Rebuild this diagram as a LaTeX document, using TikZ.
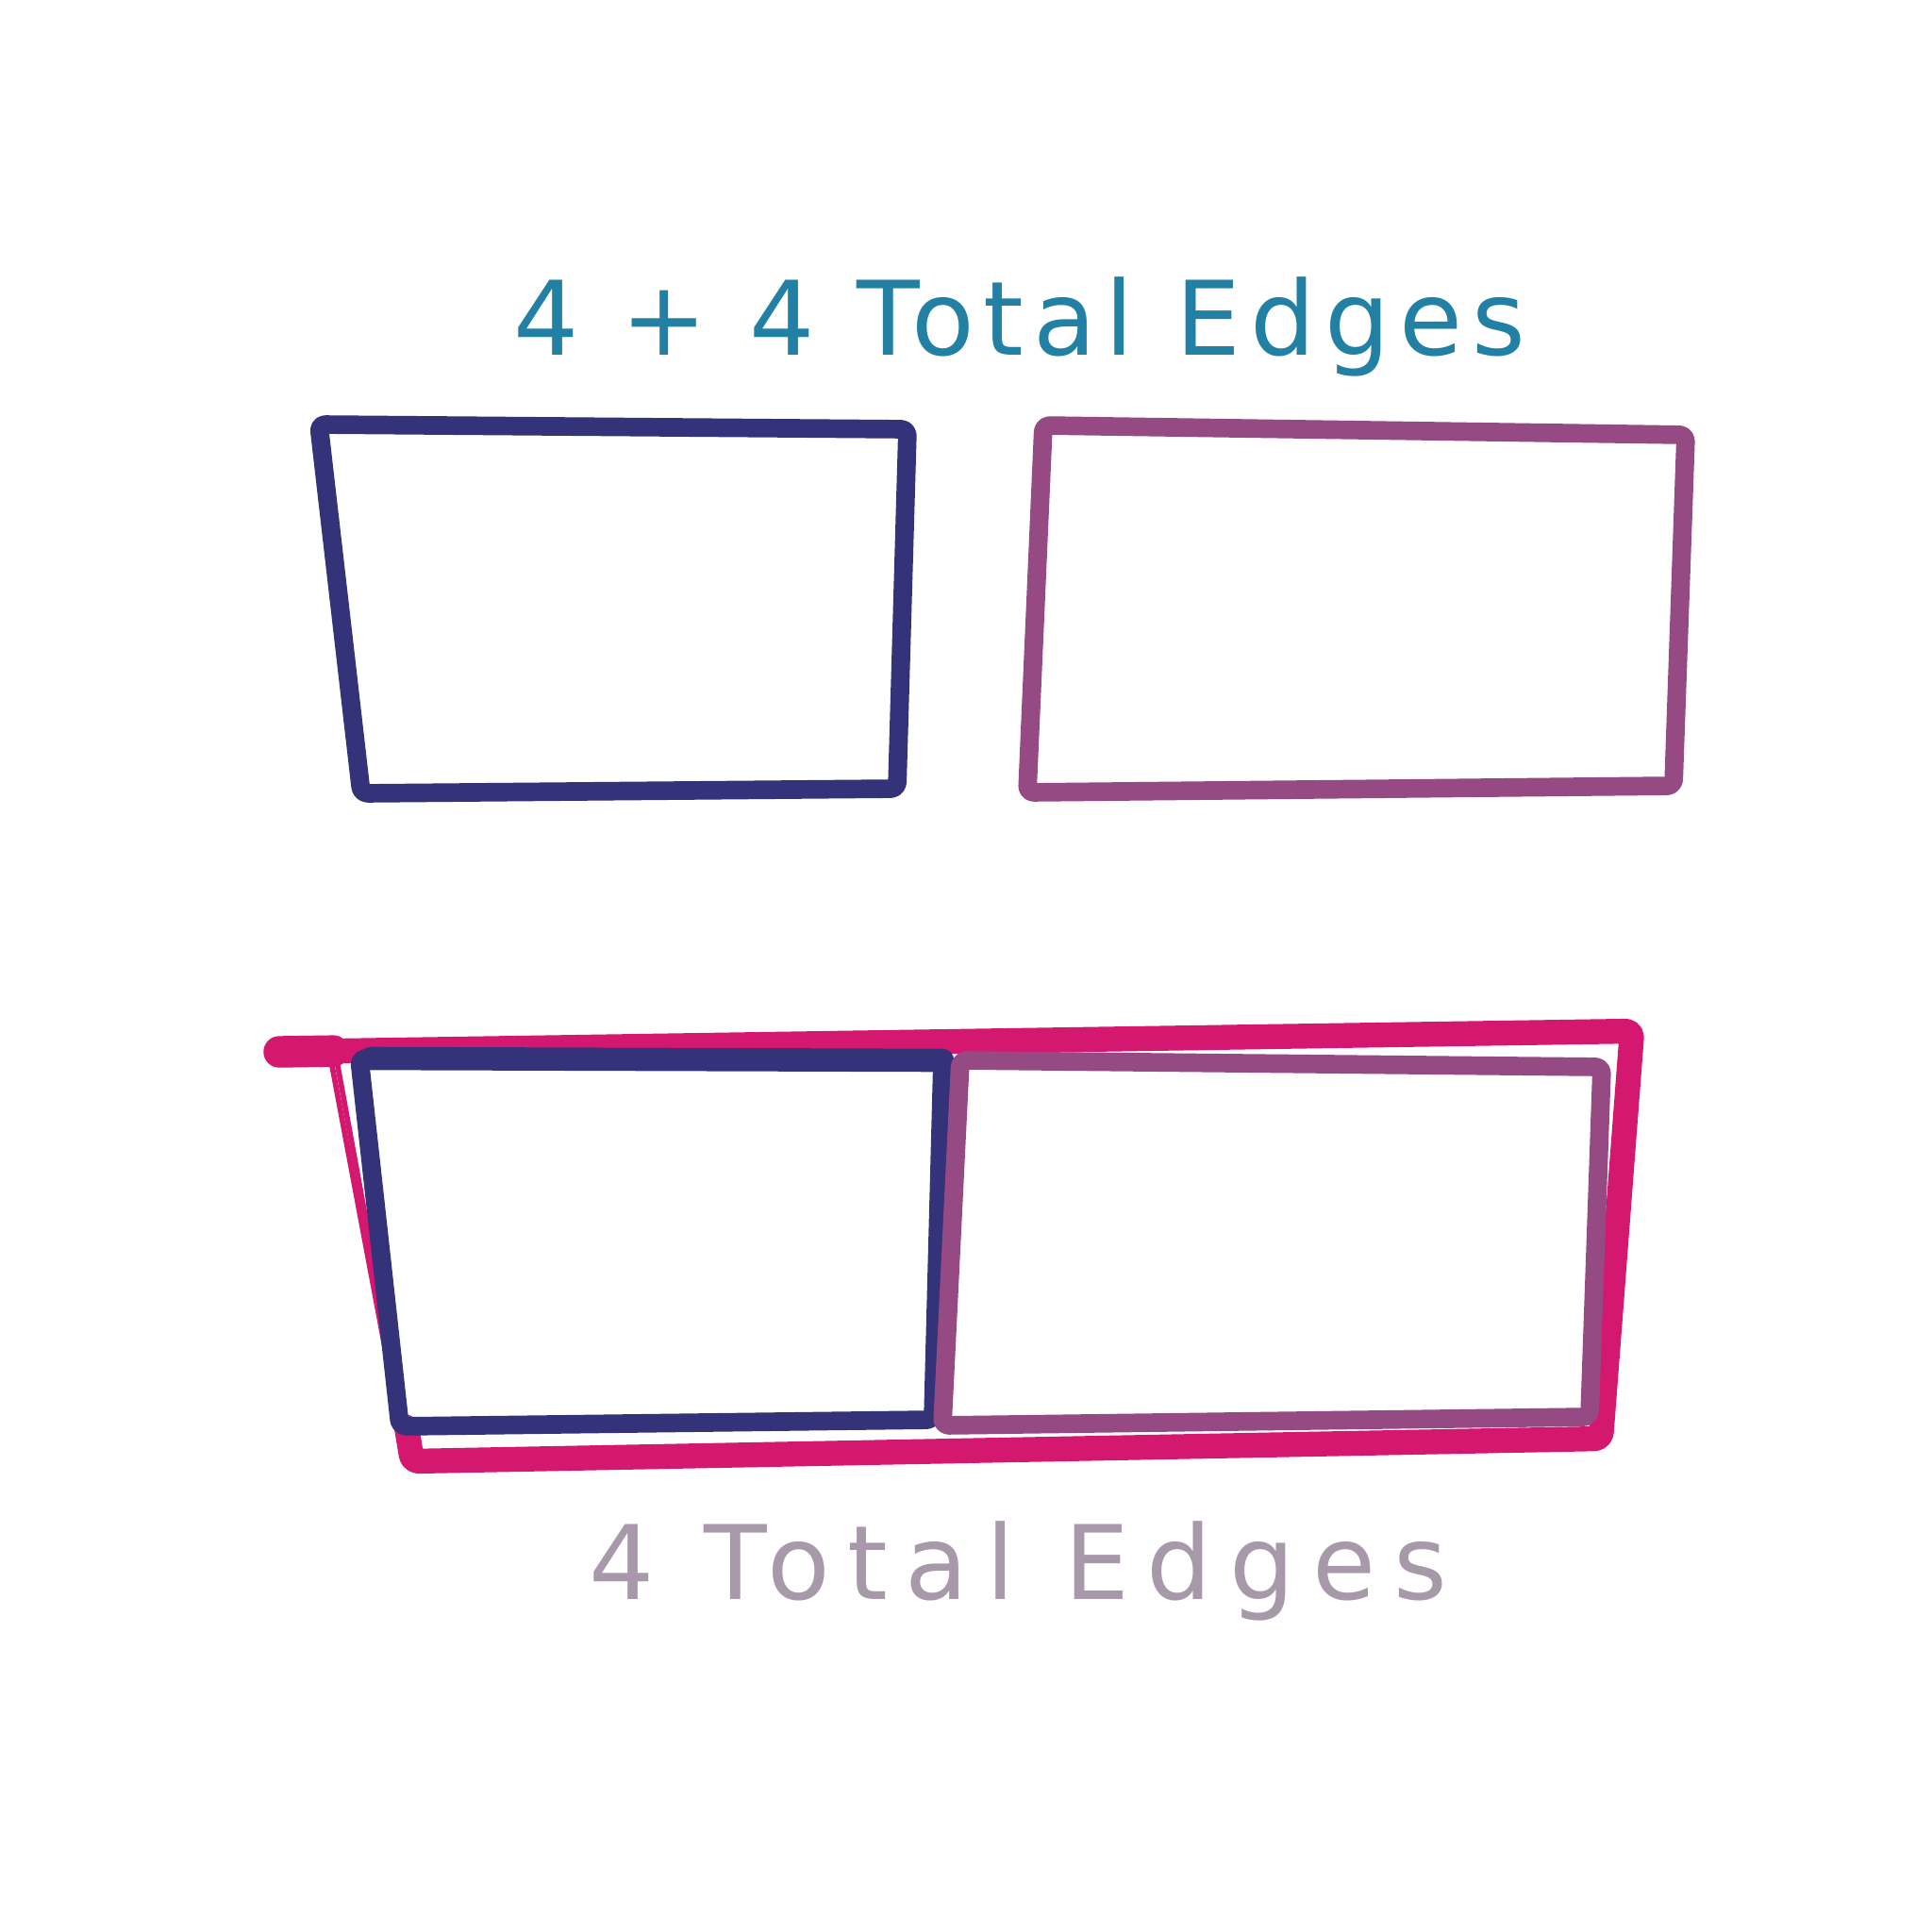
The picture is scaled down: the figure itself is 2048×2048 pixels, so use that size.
\documentclass[tikz,border=0pt]{standalone}
\usepackage{fontspec}
\usetikzlibrary{calc}
\newfontfamily\handfont[LetterSpace=9]{DejaVu Sans}
\definecolor{navycol}{RGB}{52,51,122}
\definecolor{plumcol}{RGB}{150,74,131}
\definecolor{pinkcol}{RGB}{212,24,111}
\definecolor{tealcol}{RGB}{33,128,163}
\definecolor{greycol}{RGB}{168,153,170}

\begin{document}
\begin{tikzpicture}[
  x=0.01cm, y=-0.01cm,
  %% hand-drawn outline
  ol/.style={line width=5.6pt, line join=round, line cap=round,
    rounded corners=2pt},
  %% thin pink strokes on the left side
  th/.style={line width=1.6pt, pinkcol, line cap=round},
  %% big handwritten captions
  lbl/.style={font=\handfont\fontsize{31}{35}\selectfont, inner sep=0pt},
]
\useasboundingbox[fill=white] (0,0) rectangle (2048,2048);

%%── Caption on top ───────────────────────────────────────────────────────────
\node[lbl, text=tealcol] (sumlbl) at (1081,346) {4 + 4 Total Edges};

%%── Two separate outlines ────────────────────────────────────────────────────
\coordinate (a1) at (338,450);
\coordinate (a2) at (962,455);
\coordinate (a3) at (951,836);
\coordinate (a4) at (383,841);
\draw[ol, navycol] (a1) -- (a2) -- (a3) -- (a4) -- cycle;

\coordinate (b1) at (1106,451);
\coordinate (b2) at (1787,461);
\coordinate (b3) at (1774,833);
\coordinate (b4) at (1089,840);
\draw[ol, plumcol] (b1) -- (b2) -- (b3) -- (b4) -- cycle;

%%── Outer pink outline round the joined pair ─────────────────────────────────
\coordinate (p0) at (296,1115);
\coordinate (p1) at (350,1119);
\coordinate (p2) at (1730,1093);
\coordinate (p3) at (1697,1525);
\coordinate (p4) at (437,1549);
\draw[th] (p1) -- (428,1535);
\draw[th] ($(p1)+(6,0)$) -- (422,1480);
\draw[ol, pinkcol, line width=7.5pt] (p0) -- (p2) -- (p3) -- (p4) -- ++(-6,-36);
\draw[pinkcol, line width=9.5pt, line cap=round] (p0) -- ($(p0)!0.04!(p2)$);

%%── Joined pair ──────────────────────────────────────────────────────────────
\coordinate (c1) at (381,1122);
\coordinate (c2) at (999,1124);
\coordinate (c3) at (989,1505);
\coordinate (c4) at (424,1512);
\draw[ol, navycol] (c1) -- (c2) -- (c3) -- (c4) -- cycle;
\draw[navycol, line width=7pt, line cap=round] (c1) ++(12,0) -- (c2);

\coordinate (d1) at (1018,1124);
\coordinate (d2) at (1698,1131);
\coordinate (d3) at (1685,1502);
\coordinate (d4) at (999,1511);
\draw[ol, plumcol] (d1) -- (d2) -- (d3) -- (d4) -- cycle;

%%── Caption below ────────────────────────────────────────────────────────────
\node[lbl, text=greycol] (onelbl) at (1079,1665)
  {\addfontfeature{LetterSpace=17}4 Total Edges};
\end{tikzpicture}
\end{document}
